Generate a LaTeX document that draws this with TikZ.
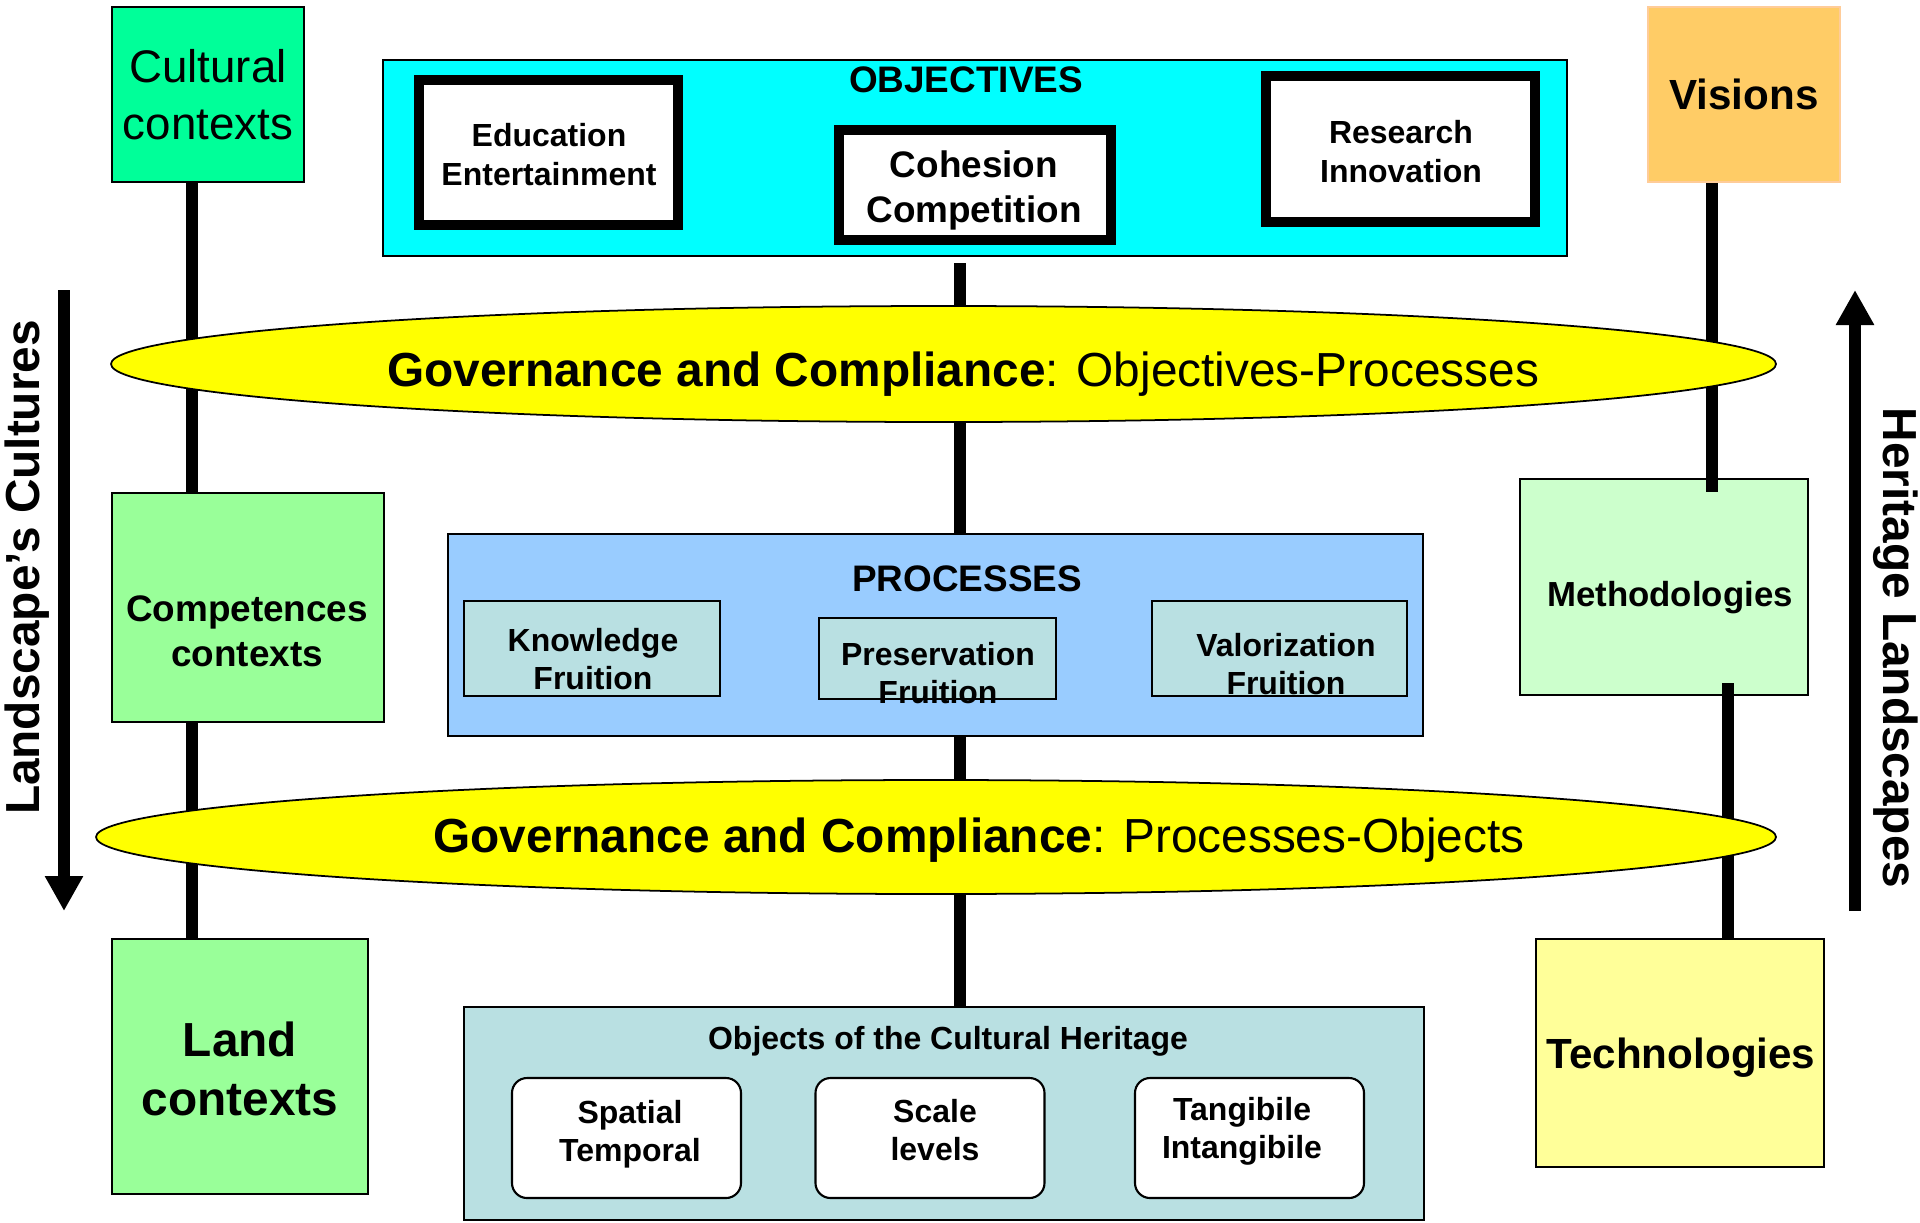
\documentclass[tikz,border=0pt]{standalone}
\usepackage{fontspec}
\setmainfont{Liberation Sans}
\usetikzlibrary{shapes.geometric,arrows.meta,backgrounds}

\definecolor{cultgreen}{HTML}{00FF99}
\definecolor{objcyan}{HTML}{00FFFF}
\definecolor{visorange}{HTML}{FFCC66}
\definecolor{visedge}{HTML}{FFCC99}
\definecolor{compgreen}{HTML}{99FF99}
\definecolor{methgreen}{HTML}{CCFFCC}
\definecolor{techyellow}{HTML}{FFFF99}
\definecolor{procblue}{HTML}{99CCFF}
\definecolor{heritteal}{HTML}{B9E0E2}
\definecolor{govyellow}{HTML}{FFFF00}

\newcommand{\fsz}[2]{\fontsize{#1}{#2}\selectfont}

\tikzset{
  ctxbox/.style={draw, line width=0.6pt, inner sep=0pt, align=center},
  objbox/.style={draw, line width=2.8pt, fill=white, inner sep=0pt, align=center, font=\fsz{9.1pt}{11.1pt}\bfseries},
  procbox/.style={draw, line width=0.6pt, fill=heritteal, inner sep=0pt},
  proctext/.style={align=center, font=\fsz{9.1pt}{10.8pt}\bfseries},
  itembox/.style={draw, line width=0.6pt, fill=white, rounded corners=1.5mm, inner sep=0pt, minimum width=22.9mm, minimum height=12mm},
  govellipse/.style={ellipse, draw, line width=0.5pt, fill=govyellow, inner sep=0pt},
  govtext/.style={font=\fsz{13.6pt}{16pt}},
  pole/.style={line width=3.4pt},
  sidearrow/.style={line width=3.4pt, -{Triangle[length=3.5mm,width=3.6mm]}},
  sidelabel/.style={font=\fsz{13.6pt}{16pt}\bfseries}
}

\begin{document}
\begin{tikzpicture}[x=0.1mm,y=-0.1mm]
\useasboundingbox (0,0) rectangle (1920,1222);

\node[ctxbox, fill=cultgreen, minimum width=19.2mm, minimum height=17.5mm, font=\fsz{13pt}{16.4pt}] (cult) at (208,94.5) {Cultural\\contexts};
\node[ctxbox, fill=compgreen, minimum width=27.2mm, minimum height=22.9mm] (comp) at (248,607.5) {};
\node[align=center, font=\fsz{10.5pt}{12.8pt}\bfseries] (comptext) at (247,631) {Competences\\contexts};
\node[ctxbox, fill=compgreen, minimum width=25.6mm, minimum height=25.5mm] (land) at (240,1066.5) {};
\node[align=center, font=\fsz{13.6pt}{16.7pt}\bfseries] (landtext) at (240,1069) {Land\\contexts};

\node[ctxbox, draw=visedge, fill=visorange, minimum width=19.2mm, minimum height=17.5mm, font=\fsz{12pt}{14pt}\bfseries] (vis) at (1744,94.5) {Visions};
\node[ctxbox, fill=methgreen, minimum width=28.8mm, minimum height=21.6mm] (meth) at (1664,587) {};
\node[font=\fsz{9.9pt}{12pt}\bfseries] (methtext) at (1670,598) {Methodologies};
\node[ctxbox, fill=techyellow, minimum width=28.8mm, minimum height=22.8mm] (tech) at (1680,1053) {};
\node[font=\fsz{12pt}{14pt}\bfseries] (techtext) at (1681,1058) {Technologies};

\node[draw, line width=0.6pt, fill=objcyan, minimum width=118.4mm, minimum height=19.6mm] (obj) at (975,158) {};
\node[font=\fsz{10.5pt}{12.8pt}\bfseries] (objtitle) at (966,80) {OBJECTIVES};
\node[objbox, minimum width=25.9mm, minimum height=14.5mm] (edu) at (548.5,152.5) {};
\node[objbox, draw=none, fill=none] (edutext) at (549,155) {Education\\Entertainment};
\node[objbox, minimum width=27.2mm, minimum height=11mm] (coh) at (975,185) {};
\node[objbox, draw=none, fill=none, font=\fsz{10.5pt}{12.8pt}\bfseries] (cohtext) at (974,190) {Cohesion\\Competition};
\node[objbox, minimum width=26.9mm, minimum height=14.6mm] (res) at (1400.5,149) {};
\node[objbox, draw=none, fill=none] (restext) at (1401,152) {Research\\Innovation};

\node[draw, line width=0.6pt, fill=procblue, minimum width=97.5mm, minimum height=20.2mm] (proc) at (935.5,635) {};
\node[font=\fsz{10.5pt}{12.8pt}\bfseries] (proctitle) at (967,579) {PROCESSES};
\node[procbox, minimum width=25.6mm, minimum height=9.5mm] (know) at (592,648.5) {};
\node[proctext] (knowtext) at (593,659) {Knowledge\\Fruition};
\node[procbox, minimum width=23.7mm, minimum height=8.1mm] (pres) at (937.5,658.5) {};
\node[proctext] (prestext) at (938,673) {Preservation\\Fruition};
\node[procbox, minimum width=25.5mm, minimum height=9.5mm] (valo) at (1279.5,648.5) {};
\node[proctext] (valotext) at (1286,663.7) {Valorization\\Fruition};

\node[draw, line width=0.6pt, fill=heritteal, minimum width=96mm, minimum height=21.3mm] (objects) at (944,1113.5) {};
\node[font=\fsz{9.1pt}{10.8pt}\bfseries] (objectstitle) at (948,1041) {Objects of the Cultural Heritage};
\node[itembox] (spat) at (626.5,1138) {};
\node[proctext] (spattext) at (630,1134) {Spatial\\Temporal};
\node[itembox] (scal) at (930,1138) {};
\node[proctext] (scaltext) at (935,1130) {Scale\\levels};
\node[itembox] (tang) at (1249.5,1138) {};
\node[proctext] (tangtext) at (1242,1131) {Tangibile\\Intangibile};

\coordinate (lpole) at (192,0);
\coordinate (cpole) at (960,0);
\coordinate (rpoleA) at (1712,0);
\coordinate (rpoleB) at (1728,0);
\coordinate (methtop) at ([yshift=-1.4mm]meth.north);
\coordinate (methbot) at ([yshift=1.3mm]meth.south);

\begin{scope}[on background layer]
\draw[pole] (cult.south -| lpole) -- (land.north -| lpole);
\draw[pole, shorten <=0.6mm] (obj.south -| cpole) -- (objects.north -| cpole);
\end{scope}
\draw[pole] (vis.south -| rpoleA) -- (methtop -| rpoleA);
\draw[pole] (methbot -| rpoleB) -- (tech.north -| rpoleB);

\node[govellipse, minimum width=166.5mm, minimum height=11.6mm] (gov1) at (943.5,364) {};
\node[govtext] (gov1text) at (963,374) {\textbf{Governance and Compliance}: Objectives-Processes};
\node[govellipse, minimum width=168mm, minimum height=11.4mm] (gov2) at (936,837) {};
\node[govtext] (gov2text) at (979,840) {\textbf{Governance and Compliance}: Processes-Objects};

\coordinate (lctop) at (64,290);
\coordinate (lcbot) at (64,911);
\coordinate (hltop) at (1855,290);
\coordinate (hlbot) at (1855,911);
\draw[sidearrow] (lctop) -- (lcbot);
\draw[sidearrow] (hlbot) -- (hltop);
\node[sidelabel, rotate=90] (lclabel) at (27,567.5) {Landscape’s Cultures};
\node[sidelabel, rotate=-90] (hllabel) at (1895.5,648) {Heritage Landscapes};
\end{tikzpicture}
\end{document}
